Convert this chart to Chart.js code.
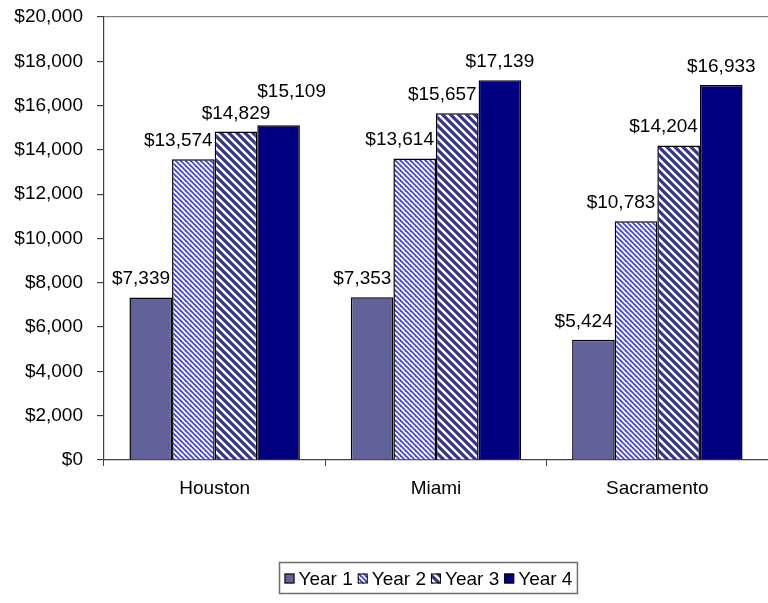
<!DOCTYPE html>
<html>
<head>
<meta charset="utf-8">
<title>Average cost by city and year</title>
<script src="https://cdn.jsdelivr.net/npm/chart.js@4/dist/chart.umd.min.js"></script>
<style>
  html, body { margin: 0; padding: 0; background: #ffffff; }
  #wrap { width: 768px; height: 603px; }
</style>
</head>
<body>
<div id="wrap"><canvas id="chart" width="768" height="603"></canvas></div>
<script>
// ---- data ----
const categories = ['Houston', 'Miami', 'Sacramento'];
const seriesNames = ['Year 1', 'Year 2', 'Year 3', 'Year 4'];
const year1 = [7339, 7353, 5424];
const year2 = [13574, 13614, 10783];
const year3 = [14829, 15657, 14204];
const year4 = [15109, 17139, 16933];
const yMin = 0;
const yMax = 20000;
const yStep = 2000;

// ---- styling helpers ----
const FONT_FAMILY = '"Liberation Sans", Arial, Helvetica, sans-serif';
const FONT_SIZE = 19;

function money(v) {
  return '$' + Number(v).toLocaleString('en-US');
}

// Diagonal "\" stripe fill built on a small tile
function stripePattern(period, lineWidth, color) {
  const c = document.createElement('canvas');
  c.width = period; c.height = period;
  const g = c.getContext('2d');
  g.fillStyle = '#ffffff';
  g.fillRect(0, 0, period, period);
  g.strokeStyle = color;
  g.lineWidth = lineWidth;
  g.lineCap = 'square';
  for (let k = -1; k <= 1; k++) {
    g.beginPath();
    g.moveTo(k * period - 1, -1);
    g.lineTo(k * period + period + 1, period + 1);
    g.stroke();
  }
  return g.createPattern(c, 'repeat');
}

const fills = [
  '#62629a',
  stripePattern(5, 1.8, '#4646f0'),
  stripePattern(8, 3.2, '#34348f'),
  '#000080'
];
const seriesValues = [year1, year2, year3, year4];

// ---- value labels above bars ----
// A label is kept clear of the next (taller) bar by sliding it left, and
// clear of the previous label by sliding it right and then up.
const valueLabels = {
  id: 'valueLabels',
  afterDatasetsDraw(chart) {
    const ctx = chart.ctx;
    ctx.save();
    ctx.font = FONT_SIZE + 'px ' + FONT_FAMILY;
    ctx.fillStyle = '#000000';
    ctx.textAlign = 'center';
    ctx.textBaseline = 'alphabetic';
    const capH = FONT_SIZE * 0.75;
    const n = chart.data.datasets.length;
    for (let i = 0; i < categories.length; i++) {
      const placed = [];
      for (let d = 0; d < n; d++) {
        const ds = chart.data.datasets[d];
        const el = chart.getDatasetMeta(d).data[i];
        const text = money(ds.data[i]);
        const w = ctx.measureText(text).width;
        let cx = el.x;
        let base = el.y - 13;
        // keep off the neighbouring bar on the right
        if (d < n - 1) {
          const nx = chart.getDatasetMeta(d + 1).data[i];
          const nLeft = nx.x - nx.width / 2;
          if (nx.y < base + 3 && cx + w / 2 > nLeft - 2) {
            cx = nLeft - 2 - w / 2;
          }
        }
        // keep off labels already drawn in this group
        const hits = (c, b) => placed.some(p =>
          (c - w / 2) < p.r && (c + w / 2) > p.l && (b - capH) < p.b && (b + 3) > p.t);
        if (hits(cx, base)) {
          cx = Math.max(cx, el.x - el.width / 2 + w / 2);
          let guard = 0;
          while (hits(cx, base) && guard++ < 20) {
            const p = placed.find(q =>
              (cx - w / 2) < q.r && (cx + w / 2) > q.l && (base - capH) < q.b && (base + 3) > q.t);
            base = p.t - 7;
          }
        }
        ctx.fillText(text, cx, base);
        placed.push({ l: cx - w / 2, r: cx + w / 2, t: base - capH, b: base + 3 });
      }
    }
    ctx.restore();
  }
};

// ---- boxed legend under the plot ----
const boxedLegend = {
  id: 'boxedLegend',
  afterDraw(chart) {
    const ctx = chart.ctx;
    const area = chart.chartArea;
    ctx.save();
    ctx.font = FONT_SIZE + 'px ' + FONT_FAMILY;
    const sq = 10, padX = 5, gapIn = 4, gapOut = 5;
    const items = chart.data.datasets.map(ds => ({
      label: ds.label, fill: ds.backgroundColor, w: ctx.measureText(ds.label).width
    }));
    let total = padX * 2;
    items.forEach((it, k) => { total += sq + gapIn + it.w + (k < items.length - 1 ? gapOut : 0); });
    const boxH = 31;
    const top = 562;
    const left = Math.round((area.left + area.right) / 2 - 8 - total / 2) + 0.5;
    ctx.strokeStyle = '#6e6e6e';
    ctx.lineWidth = 1.5;
    ctx.strokeRect(left, top + 0.5, total, boxH);
    const midY = top + boxH / 2 + 1;
    let x = left + padX;
    ctx.textBaseline = 'middle';
    ctx.textAlign = 'left';
    items.forEach(it => {
      ctx.fillStyle = it.fill;
      ctx.fillRect(x, midY - sq / 2, sq, sq);
      ctx.strokeStyle = '#000000';
      ctx.lineWidth = 1;
      ctx.strokeRect(x + 0.5, midY - sq / 2 + 0.5, sq - 1, sq - 1);
      x += sq + gapIn;
      ctx.fillStyle = '#000000';
      ctx.fillText(it.label, x, midY + 1);
      x += it.w + gapOut;
    });
    ctx.restore();
  }
};

const ctx = document.getElementById('chart').getContext('2d');
new Chart(ctx, {
  type: 'bar',
  data: {
    labels: categories,
    datasets: seriesNames.map((name, k) => ({
      label: name,
      data: seriesValues[k],
      backgroundColor: fills[k],
      borderColor: '#000000',
      borderWidth: 1.5,
      borderSkipped: 'bottom',
      categoryPercentage: 0.77,
      barPercentage: 1.0
    }))
  },
  options: {
    responsive: false,
    animation: false,
    devicePixelRatio: 1,
    layout: { padding: { top: 17, right: 0, bottom: 103, left: 0 } },
    plugins: {
      legend: { display: false },
      tooltip: { enabled: false },
      title: { display: false }
    },
    scales: {
      x: {
        grid: {
          display: true,
          drawOnChartArea: false,
          offset: true,
          tickLength: 6,
          color: '#404040',
          tickColor: '#404040'
        },
        border: { display: true, color: '#404040', width: 1.2 },
        ticks: {
          color: '#000000',
          font: { family: FONT_FAMILY, size: FONT_SIZE },
          padding: 11
        },
        afterFit(scale) {
          scale.height = 40;
          scale.paddingLeft = 0;
          scale.paddingRight = 0;
        }
      },
      y: {
        min: yMin,
        max: yMax,
        grid: {
          drawOnChartArea: true,
          tickLength: 7,
          color: c => (c.tick && c.tick.value === yMax) ? '#808080' : 'rgba(0,0,0,0)',
          tickColor: '#404040',
          lineWidth: 1.2
        },
        border: { display: true, color: '#404040', width: 1.2 },
        ticks: {
          stepSize: yStep,
          color: '#000000',
          font: { family: FONT_FAMILY, size: FONT_SIZE },
          padding: 14,
          callback: v => money(v)
        },
        afterFit(scale) {
          scale.width = 104;
          scale.paddingTop = 0;
          scale.paddingBottom = 0;
        }
      }
    }
  },
  plugins: [valueLabels, boxedLegend]
});
</script>
</body>
</html>
